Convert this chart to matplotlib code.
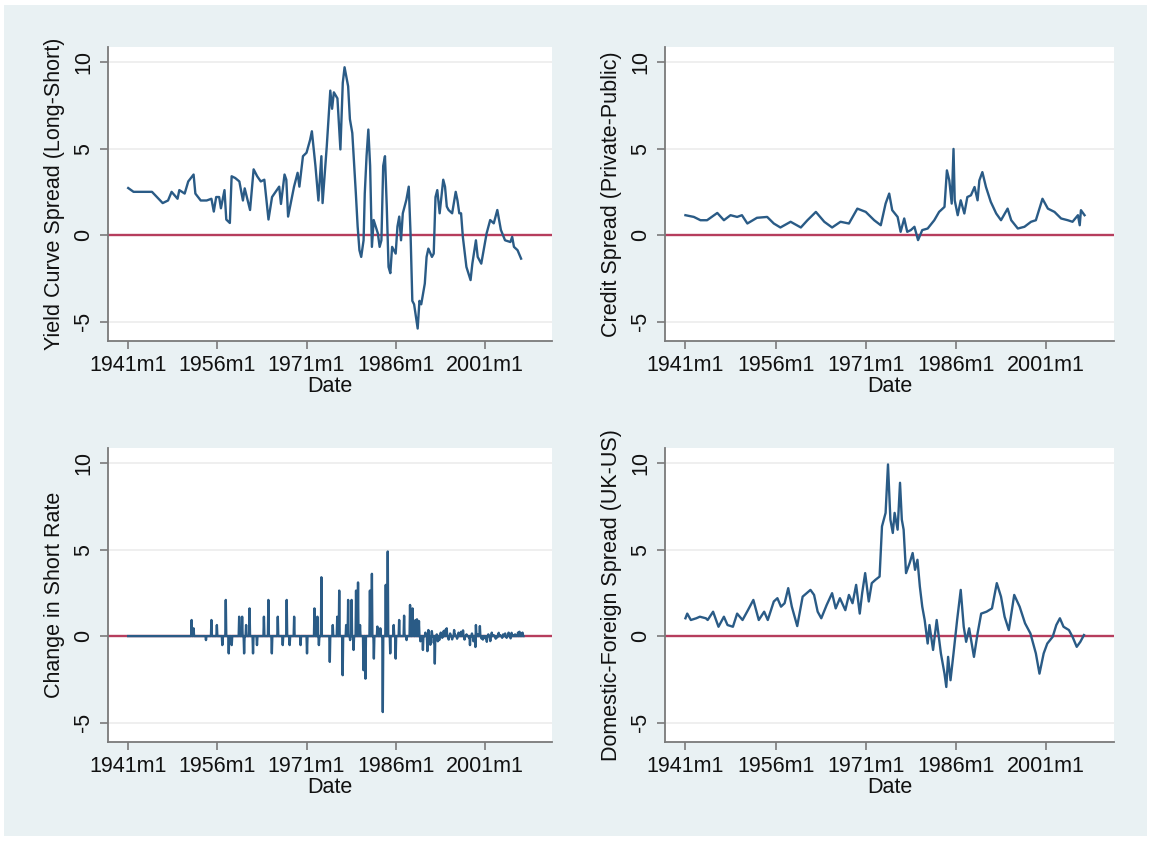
import numpy as np
import matplotlib
matplotlib.use("Agg")
import matplotlib.pyplot as plt
from matplotlib.patches import Rectangle

plt.rcParams["font.family"] = ["Liberation Sans", "DejaVu Sans"]
plt.rcParams["axes.unicode_minus"] = False

# ---- Yield curve spread (long - short) ----
yc_dates = [1941.0, 1941.9, 1943.0, 1945.0, 1946.8, 1947.7, 1948.3, 1949.3, 1949.6, 1950.5,
            1951.1, 1952.0, 1952.3, 1953.2, 1954.2, 1955.0, 1955.4, 1955.8, 1956.3, 1956.6,
            1957.2, 1957.5, 1958.1, 1958.4, 1959.0, 1959.7, 1960.3, 1960.6, 1961.5, 1962.1,
            1962.7, 1963.3, 1963.9, 1964.6, 1965.2, 1966.4, 1966.7, 1967.3, 1967.6, 1967.9,
            1968.9, 1969.5, 1969.8, 1970.4, 1971.0, 1971.6, 1971.9, 1972.5, 1973.0, 1973.5,
            1973.7, 1974.4, 1975.0, 1975.3, 1975.6, 1976.2, 1976.7, 1977.1, 1977.4, 1978.0,
            1978.3, 1978.7, 1979.3, 1979.6, 1979.9, 1980.2, 1980.6, 1980.8, 1981.1, 1981.4,
            1981.7, 1982.0, 1982.3, 1983.0, 1983.3, 1983.6, 1983.9, 1984.2, 1984.5, 1984.8,
            1985.1, 1985.4, 1986.0, 1986.3, 1986.6, 1986.9, 1987.2, 1987.8, 1988.2, 1988.5,
            1988.8, 1989.1, 1989.7, 1990.0, 1990.3, 1990.9, 1991.2, 1991.5, 1992.1, 1992.4,
            1992.7, 1993.0, 1993.4, 1994.0, 1994.3, 1994.6, 1994.9, 1995.5, 1996.1, 1996.4,
            1996.7, 1997.0, 1997.3, 1997.9, 1998.6, 1998.9, 1999.5, 1999.8, 2000.4, 2000.7,
            2001.3, 2001.9, 2002.5, 2003.1, 2003.7, 2004.4, 2005.3, 2005.6, 2005.9, 2006.5,
            2007.1]
yc_values = [2.72, 2.5, 2.5, 2.5, 1.85, 2.0, 2.5, 2.1, 2.6, 2.4,
             3.1, 3.5, 2.4, 2.0, 2.0, 2.1, 1.36, 2.2, 2.2, 1.55,
             2.6, 0.9, 0.7, 3.4, 3.3, 3.1, 2.0, 2.7, 1.45, 3.8,
             3.4, 3.1, 3.2, 0.9, 2.2, 2.8, 1.8, 3.5, 3.2, 1.07,
             2.8, 3.6, 2.8, 4.56, 4.76, 5.5, 6.0, 4.0, 2.0, 4.56,
             1.85, 5.1, 8.35, 7.3, 8.25, 7.9, 4.95, 8.8, 9.7, 8.6,
             6.7, 5.9, 2.4, 0.5, -0.87, -1.26, -0.3, 2.4, 4.56, 6.1,
             4.0, -0.68, 0.87, 0.1, -0.68, -0.3, 4.0, 4.56, 1.65, -1.84,
             -2.2, -0.68, -1.07, 0.5, 1.07, -0.3, 1.26, 2.04, 2.8, 0.1,
             -3.8, -4.0, -5.4, -3.8, -4.0, -2.8, -1.26, -0.78, -1.26, -1.07,
             2.2, 2.6, 1.26, 3.2, 2.8, 1.65, 1.45, 1.26, 2.5, 2.0,
             1.26, 1.26, -0.1, -1.84, -2.6, -1.65, -0.3, -1.26, -1.65, -1.07,
             0.1, 0.87, 0.68, 1.45, 0.3, -0.3, -0.4, -0.1, -0.68, -0.87,
             -1.36]

# ---- Credit spread (private - public) ----
cs_dates = [1941.0, 1942.4, 1943.5, 1944.6, 1946.3, 1947.4, 1948.5, 1949.6, 1950.4, 1951.3,
            1952.9, 1954.6, 1955.7, 1956.8, 1958.5, 1960.2, 1961.3, 1962.7, 1964.1, 1965.4,
            1966.8, 1968.2, 1969.6, 1971.0, 1972.4, 1973.5, 1974.3, 1974.9, 1975.4, 1976.3,
            1976.8, 1977.4, 1977.9, 1978.5, 1979.1, 1979.7, 1980.4, 1981.3, 1982.4, 1983.2,
            1984.1, 1984.5, 1984.9, 1985.3, 1985.6, 1985.8, 1986.3, 1986.8, 1987.4, 1987.9,
            1988.5, 1989.1, 1989.6, 1989.9, 1990.4, 1991.0, 1991.8, 1992.7, 1993.5, 1994.6,
            1995.2, 1996.3, 1997.4, 1998.5, 1999.3, 2000.4, 2001.3, 2002.4, 2003.5, 2004.6,
            2005.4, 2006.3, 2006.6, 2006.8, 2007.4]
cs_values = [1.15, 1.05, 0.86, 0.86, 1.28, 0.86, 1.15, 1.05, 1.15, 0.67,
             1.0, 1.05, 0.67, 0.44, 0.77, 0.44, 0.86, 1.34, 0.77, 0.44,
             0.77, 0.67, 1.53, 1.34, 0.86, 0.57, 1.82, 2.4, 1.44, 1.05,
             0.19, 0.96, 0.19, 0.29, 0.48, -0.29, 0.29, 0.38, 0.86, 1.34,
             1.63, 3.74, 3.16, 1.82, 4.98, 2.01, 1.15, 2.01, 1.25, 2.2,
             2.3, 2.78, 2.01, 3.16, 3.64, 2.78, 1.92, 1.25, 0.86, 1.53,
             0.86, 0.38, 0.48, 0.77, 0.86, 2.1, 1.53, 1.34, 0.96, 0.86,
             0.77, 1.15, 0.57, 1.44, 1.15]

# ---- Change in short rate: monthly series, zero except for the listed moves ----
sr_start, sr_end = 1941.0, 2007.5
sr_move_dates = [1951.7, 1952.0, 1954.1, 1955.0, 1955.9, 1956.8, 1957.4, 1957.9, 1958.4, 1959.7,
                 1960.2, 1960.5, 1960.8, 1961.4, 1962.0, 1962.7, 1963.8, 1964.6, 1965.2, 1966.2,
                 1967.0, 1967.7, 1968.2, 1968.9, 1970.0, 1971.1, 1972.3, 1972.8, 1973.1, 1973.5,
                 1974.9, 1975.4, 1976.2, 1976.5, 1977.1, 1977.7, 1978.0, 1978.3, 1978.6, 1978.9,
                 1979.3, 1979.7, 1980.0, 1980.6, 1980.9, 1981.7, 1982.0, 1982.3, 1982.9, 1983.4,
                 1983.8, 1984.3, 1984.7, 1985.1, 1985.7, 1986.0, 1986.6, 1987.4, 1987.8, 1988.4,
                 1988.8, 1989.0, 1989.3, 1989.6, 1989.9, 1990.2, 1990.6, 1991.0, 1991.3, 1991.5,
                 1991.8, 1992.1, 1992.4, 1992.6, 1992.9, 1993.1, 1993.3, 1993.6, 1993.8, 1994.1,
                 1994.4, 1994.6, 1994.9, 1995.2, 1995.5, 1995.8, 1996.0, 1996.3, 1996.6, 1997.0,
                 1997.3, 1997.6, 1997.9, 1998.3, 1998.5, 1998.8, 1999.1, 1999.4, 1999.5, 1999.8,
                 2000.2, 2000.4, 2000.7, 2001.1, 2001.3, 2001.6, 2001.9, 2002.2, 2002.5, 2002.8,
                 2003.1, 2003.3, 2003.6, 2003.9, 2004.1, 2004.4, 2004.7, 2005.0, 2005.3, 2005.5,
                 2005.8, 2006.1, 2006.4, 2006.6, 2006.8, 2007.1, 2007.3]
sr_move_values = [0.93, 0.45, -0.23, 0.93, 0.64, -0.52, 2.09, -1.0, -0.52, 1.12,
                  1.12, -1.0, 0.64, 1.6, -1.0, -0.52, 1.12, 2.09, -1.0, 1.12,
                  -0.52, 2.09, -0.52, 1.12, -0.52, -1.0, 1.6, 1.12, -0.52, 3.4,
                  -1.49, 0.64, 1.12, 2.63, -2.26, 0.64, 2.09, -0.23, 2.09, -0.8,
                  2.63, 3.1, 0.64, -1.97, -2.46, 2.63, 3.6, -1.3, 0.55, 0.45,
                  -4.39, 2.96, 4.89, -1.0, 0.64, -1.3, 0.93, 1.18, -0.23, 1.8,
                  1.6, 0.4, 0.93, 0.97, 0.87, -0.3, -0.8, 0.2, -0.87, 0.35,
                  -0.5, 0.29, -0.4, -1.59, 0.1, -0.3, -0.23, 0.2, -0.1, 0.3,
                  0.38, 0.45, -0.2, 0.15, -0.19, 0.35, 0.1, -0.15, 0.2, 0.25,
                  0.33, -0.2, 0.1, -0.1, -0.52, 0.15, -0.3, -0.63, 0.64, 0.1,
                  0.58, -0.13, -0.2, -0.13, -0.33, 0.1, -0.29, 0.2, 0.05, -0.15,
                  -0.08, 0.19, 0.05, -0.1, 0.1, 0.15, -0.1, 0.2, -0.13, 0.19,
                  0.05, 0.1, 0.06, 0.2, 0.25, 0.15, 0.2]

# ---- Domestic-foreign spread (UK - US) ----
df_dates = [1941.0, 1941.3, 1941.9, 1942.8, 1943.4, 1944.4, 1944.7, 1945.6, 1946.5, 1947.4,
            1948.0, 1948.9, 1949.6, 1950.5, 1951.4, 1952.3, 1953.2, 1954.1, 1954.7, 1955.7,
            1956.3, 1956.9, 1957.5, 1958.1, 1958.7, 1959.6, 1960.5, 1961.8, 1962.4, 1963.0,
            1963.6, 1964.5, 1965.4, 1966.0, 1966.7, 1967.6, 1968.2, 1968.8, 1969.4, 1970.0,
            1970.4, 1970.9, 1971.5, 1972.0, 1972.6, 1973.3, 1973.7, 1974.3, 1974.7, 1975.1,
            1975.5, 1975.8, 1976.3, 1976.7, 1977.0, 1977.3, 1977.7, 1978.3, 1978.8, 1979.2,
            1979.6, 1980.0, 1980.4, 1980.8, 1981.3, 1981.6, 1982.2, 1982.8, 1983.5, 1984.1,
            1984.4, 1984.7, 1985.1, 1985.6, 1986.2, 1986.8, 1987.3, 1987.7, 1988.2, 1989.0,
            1989.6, 1990.2, 1991.1, 1992.0, 1992.8, 1993.5, 1994.1, 1994.8, 1995.7, 1996.6,
            1997.5, 1998.4, 1999.3, 1999.9, 2000.6, 2001.2, 2002.1, 2002.7, 2003.3, 2003.9,
            2004.8, 2005.4, 2006.1, 2006.7, 2007.3]
df_values = [1.03, 1.3, 0.93, 1.03, 1.12, 1.03, 0.93, 1.41, 0.54, 1.12,
             0.64, 0.54, 1.3, 0.93, 1.5, 2.09, 0.93, 1.41, 0.93, 2.0,
             2.19, 1.7, 1.9, 2.77, 1.7, 0.58, 2.28, 2.67, 2.38, 1.41,
             1.03, 1.8, 2.48, 1.6, 2.19, 1.5, 2.38, 1.9, 2.96, 1.3,
             2.48, 3.64, 2.0, 3.06, 3.25, 3.44, 6.34, 7.12, 9.92, 6.73,
             5.96, 7.12, 6.15, 8.86, 6.73, 6.15, 3.64, 4.22, 4.8, 3.83,
             4.41, 2.86, 1.7, 0.93, -0.43, 0.64, -0.8, 0.93, -1.0, -2.17,
             -2.94, -1.2, -2.55, -1.0, 0.93, 2.67, 0.54, -0.33, 0.45, -1.2,
             0.15, 1.3, 1.41, 1.6, 3.06, 2.28, 1.12, 0.35, 2.38, 1.7,
             0.74, 0.15, -1.0, -2.17, -1.0, -0.43, -0.04, 0.64, 1.03, 0.54,
             0.35, -0.04, -0.62, -0.33, 0.06]

y_titles = ["Yield Curve Spread (Long-Short)", "Credit Spread (Private-Public)",
            "Change in Short Rate", "Domestic-Foreign Spread (UK-US)"]
x_tick_years = [1941, 1956, 1971, 1986, 2001]
x_tick_labels = ["1941m1", "1956m1", "1971m1", "1986m1", "2001m1"]
y_ticks = [-5, 0, 5, 10]

# monthly short-rate changes
sr_dates = np.arange(round((sr_end - sr_start) * 12) + 1) / 12.0 + sr_start
sr_values = np.zeros_like(sr_dates)
for d, v in zip(sr_move_dates, sr_move_values):
    sr_values[int(round((d - sr_start) * 12))] = v

series = [(yc_dates, yc_values), (cs_dates, cs_values),
          (sr_dates, sr_values), (df_dates, df_values)]

W, H = 1151, 841
fig = plt.figure(figsize=(W / 100, H / 100), dpi=100, facecolor="white")

# outer shaded graph region
fig.patches.append(Rectangle((4 / W, 5 / H), (1147 - 4) / W, (836 - 5) / H,
                             transform=fig.transFigure, facecolor="#e9f1f3",
                             edgecolor="none", zorder=-10))

LINE = "#2a5b86"
ZERO = "#b63d5d"
AXC = "#7a7a7a"
FS = 15.5

# pixel boxes: left, top, right, bottom
boxes = [(108, 47, 552, 341), (665, 47, 1114, 341),
         (108, 448, 552, 742), (665, 448, 1114, 742)]

for (l, t, r, b), (xd, yd), title in zip(boxes, series, y_titles):
    ax = fig.add_axes([l / W, 1 - b / H, (r - l) / W, (b - t) / H])
    ax.set_zorder(1)
    ax.set_facecolor("white")
    ax.set_xlim(1937.6, 2012.3)
    ax.set_ylim(-6.12, 10.87)
    for y in y_ticks:
        ax.axhline(y, color="#eeeeee", lw=1.3, zorder=1)
    ax.axhline(0, color=ZERO, lw=1.7, zorder=2)
    ax.plot(xd, yd, color=LINE, lw=1.7, zorder=3, solid_joinstyle="round")

    for s in ["top", "right"]:
        ax.spines[s].set_visible(False)
    for s in ["left", "bottom"]:
        ax.spines[s].set_color(AXC)
        ax.spines[s].set_linewidth(1.3)

    ax.set_xticks(x_tick_years)
    ax.set_xticklabels(x_tick_labels)
    ax.set_yticks(y_ticks)
    ax.set_yticklabels([str(v) for v in y_ticks], rotation=90, va="center")
    ax.tick_params(axis="both", colors=AXC, length=6, width=1.2,
                   labelsize=FS, labelcolor="#111111")
    ax.tick_params(axis="x", pad=4)
    ax.tick_params(axis="y", pad=4)
    ax.set_xlabel("Date", fontsize=FS, color="#111111", labelpad=0)
    ax.set_ylabel(title, fontsize=FS, color="#111111", labelpad=6)

fig.savefig("out.png", dpi=100, facecolor="white")
